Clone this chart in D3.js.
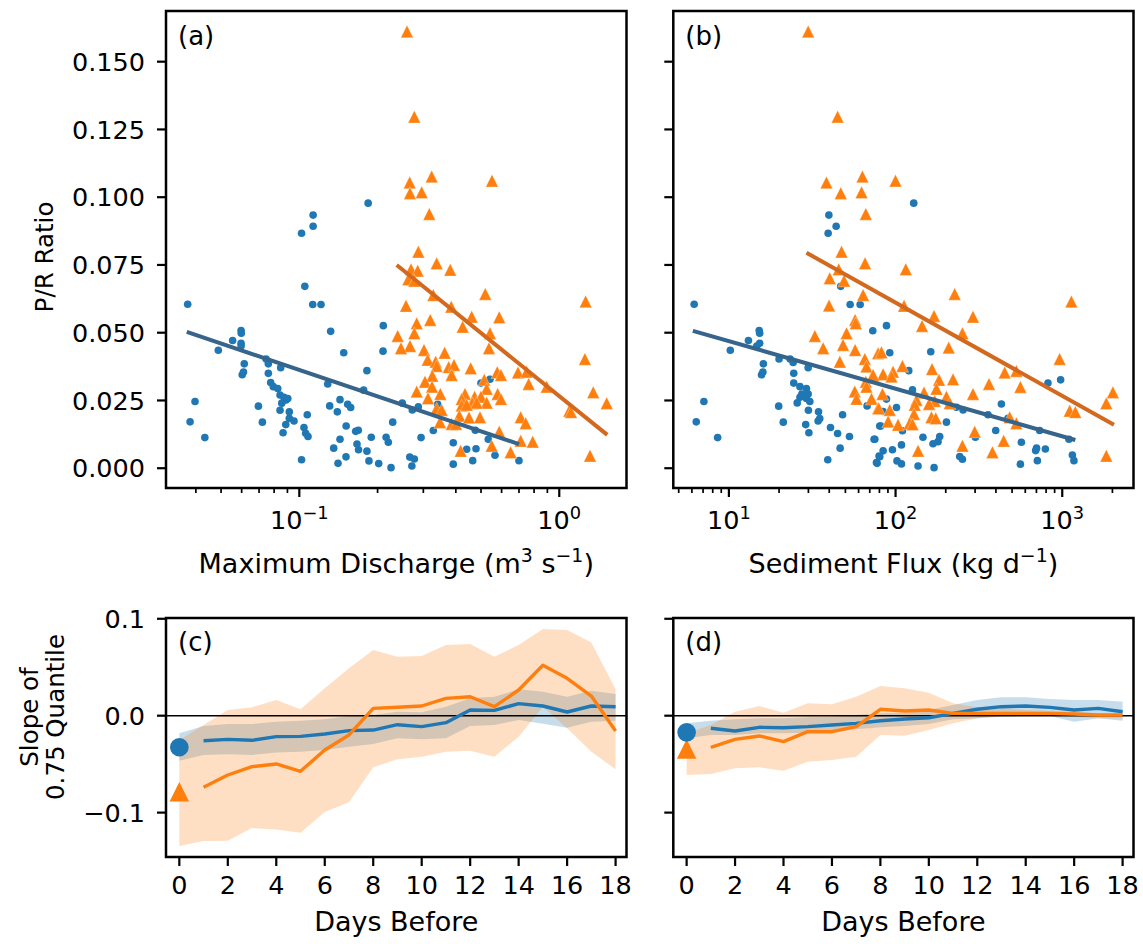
<!DOCTYPE html>
<html>
<head>
<meta charset="utf-8">
<script src="https://cdn.jsdelivr.net/npm/d3@7"></script>
<style>
  body { margin: 0; background: #fff; }
  text { font-family: "DejaVu Sans", sans-serif; fill: #000; }
</style>
</head>
<body>
<svg id="fig" width="1143" height="944"></svg>
<script>
///////// data //////////

// P/R ratio vs maximum discharge (m3/s), [discharge, ratio]
const blueDischarge = [
  [0.102,0.0867],[0.113,0.0934],[0.113,0.0893],[0.184,0.0978],[0.0372,0.0605],[0.0380,0.0171],
  [0.0397,0.0246],[0.0433,0.0113],[0.0488,0.0435],[0.0554,0.0471],[0.0597,0.0508],[0.0598,0.0498],
  [0.0597,0.0461],[0.0597,0.0451],[0.0614,0.0385],[0.0603,0.0345],[0.0610,0.0355],[0.0696,0.0229],
  [0.0721,0.0170],[0.0745,0.0403],[0.0760,0.0385],[0.0760,0.0350],[0.0776,0.0316],[0.0794,0.0301],
  [0.0826,0.0294],[0.0848,0.0371],[0.0843,0.0270],[0.0856,0.0240],[0.0843,0.0214],[0.0873,0.0262],
  [0.0889,0.0252],[0.0903,0.0257],[0.0915,0.0208],[0.0887,0.0161],[0.0866,0.0131],[0.0915,0.0184],
  [0.0954,0.0174],[0.102,0.0031],[0.1073,0.0197],[0.1042,0.0150],[0.1058,0.0129],[0.108,0.0117],
  [0.105,0.0671],[0.1126,0.0604],[0.1212,0.0604],[0.132,0.0505],[0.1482,0.0426],[0.1286,0.0311],
  [0.1309,0.0230],[0.140,0.0208],[0.1434,0.0253],[0.1535,0.0236],[0.1576,0.0224],[0.1356,0.0074],
  [0.1434,0.0107],[0.1409,0.0018],[0.1512,0.0042],[0.1514,0.0156],[0.1648,0.0136],[0.1686,0.0140],
  [0.1667,0.0089],[0.169,0.0068],[0.182,0.0360],[0.1768,0.0288],[0.1891,0.0114],[0.182,0.0063],
  [0.1853,0.0027],[0.202,0.0017],[0.2104,0.0526],[0.2099,0.0432],[0.2287,0.0170],[0.2157,0.0114],
  [0.220,0.0096],[0.2253,0.0002],[0.249,0.0240],[0.272,0.0215],[0.287,0.0227],[0.294,0.0113],
  [0.266,0.0041],[0.277,0.0034],[0.271,0.0008],[0.3277,0.0139],[0.3407,0.0236],[0.3386,0.0203],
  [0.391,0.0094],[0.391,0.0015],[0.4403,0.0070],[0.4783,0.0072],[0.4645,0.0028],[0.4753,0.0140],
  [0.4997,0.0314],[0.5413,0.0328],[0.5332,0.0107],[0.5658,0.0048],[0.6998,0.0028]
];
const orangeDischarge = [
  [0.2596,0.1611],[0.277,0.1297],[0.2658,0.1054],[0.323,0.1076],[0.2665,0.1015],[0.2956,0.1018],
  [0.551,0.1061],[0.3162,0.0938],[0.287,0.0799],[0.3377,0.0756],[0.269,0.0734],[0.2854,0.0729],
  [0.3807,0.0732],[0.2626,0.0697],[0.277,0.0692],[0.3277,0.0639],[0.5192,0.0643],[0.2573,0.0599],
  [0.3841,0.0596],[0.2829,0.0535],[0.319,0.0547],[0.4604,0.0559],[0.5877,0.0557],[0.425,0.0522],
  [0.277,0.0498],[0.239,0.0488],[0.5413,0.0498],[0.2665,0.0451],[0.2461,0.0443],[0.3017,0.0436],
  [0.3623,0.0426],[0.5365,0.0443],[0.3118,0.0400],[0.3347,0.0393],[0.3377,0.0377],[0.3755,0.0373],
  [0.3936,0.0381],[0.4563,0.0369],[0.3855,0.0344],[0.3248,0.0341],[0.5773,0.0354],[0.5966,0.0344],
  [0.6937,0.0353],[0.7493,0.0356],[0.3044,0.0319],[0.3239,0.0301],[0.5146,0.0326],[0.5257,0.0293],
  [0.7627,0.0311],[0.8945,0.0301],[0.2829,0.0283],[0.3486,0.0274],[0.3126,0.0258],[0.4338,0.0274],
  [0.4726,0.0264],[0.4997,0.0264],[0.4213,0.0255],[0.5794,0.0274],[0.5966,0.0255],[0.5257,0.0242],
  [0.4628,0.0240],[0.4813,0.0242],[0.3377,0.0221],[0.3529,0.0215],[0.4213,0.0231],[0.4403,0.0234],
  [0.4125,0.0194],[0.4495,0.0187],[0.4955,0.0188],[0.3855,0.0163],[0.3477,0.0170],[0.4006,0.0163],
  [0.7104,0.0188],[0.7426,0.0166],[1.093,0.0212],[1.109,0.0207],[1.263,0.0615],[1.255,0.0403],
  [1.351,0.0280],[1.522,0.0240],[1.313,0.0046],[0.5877,0.0135],[0.5495,0.0083],[0.4175,0.0064],
  [0.650,0.0059],[0.7104,0.0101],[0.7902,0.0098]
];
// fitted quantile lines, two end points each
const blueDischargeFit = [[0.0369,0.0503],[0.70,0.0089]];
const orangeDischargeFit = [[0.2369,0.0750],[1.530,0.0123]];

// P/R ratio vs sediment flux (kg/d), [flux, ratio]
const blueFlux = [
  [39.8,0.0934],[44.0,0.0893],[39.4,0.0867],[128.5,0.0978],[6.19,0.0605],[6.37,0.0171],[7.08,0.0246],
  [8.56,0.0113],[10.2,0.0435],[13.1,0.0471],[15.2,0.0508],[15.3,0.0498],[15.3,0.0461],[14.7,0.0451],
  [16.1,0.0385],[15.7,0.0345],[16.0,0.0355],[19.9,0.0229],[21.2,0.0170],[20.0,0.0403],[23.3,0.0403],
  [24.3,0.0390],[29.9,0.0371],[24.5,0.0350],[24.5,0.0314],[26.7,0.0301],[29.2,0.0294],[27.4,0.0274],
  [29.9,0.0274],[26.7,0.0262],[29.2,0.0257],[30.6,0.0246],[25.7,0.0241],[30.0,0.0214],[34.5,0.0208],
  [35.1,0.0183],[34.3,0.0174],[28.9,0.0161],[30.2,0.0131],[40.7,0.0150],[44.9,0.0128],[52.9,0.0117],
  [46.5,0.0074],[39.2,0.0031],[48.1,0.0197],[46.9,0.0671],[53.4,0.0604],[61.3,0.0604],[73.0,0.0507],
  [67.5,0.0230],[80.4,0.0156],[74.3,0.0107],[76.8,0.0021],[79.6,0.0045],[88.2,0.0526],[92.3,0.0426],
  [162.6,0.0430],[120,0.0360],[126.3,0.0289],[88.2,0.0255],[101.3,0.0224],[84.2,0.0209],[202,0.0170],
  [81.5,0.0156],[110,0.0138],[146,0.0114],[75.1,0.0107],[184,0.0117],[179.8,0.0098],[167.8,0.0090],
  [108.5,0.0086],[95.8,0.0068],[84.2,0.0064],[80.4,0.0042],[77.5,0.0018],[102,0.0027],[108.5,0.0016],
  [136.4,0.0008],[170.2,0.0002],[242.6,0.0043],[251.8,0.0033],[231.8,0.0225],[254,0.0215],
  [358.6,0.0197],[398.8,0.0139],[431.4,0.0237],[472.5,0.0184],[301.3,0.0114],[568.6,0.0096],
  [732,0.0139],[821,0.0314],[978,0.0326],[692.6,0.0065],[701,0.0074],[791.9,0.0071],[560.8,0.0015],
  [709,0.0028],[1097,0.0107],[1150,0.0049],[1175,0.0028]
];
const orangeFlux = [
  [29.9,0.1611],[44.9,0.1297],[38.5,0.1054],[46.9,0.1015],[63.3,0.1076],[62.5,0.1018],[66.3,0.0938],
  [47.4,0.0799],[99.9,0.1061],[65.6,0.0756],[45.6,0.0734],[40.3,0.0701],[49.1,0.0692],[63.9,0.0639],
  [39.9,0.0600],[57.2,0.0547],[57.7,0.0535],[32.8,0.0488],[50.8,0.0498],[36.8,0.0443],[48.4,0.0455],
  [57.2,0.0436],[46.3,0.0393],[65.4,0.0403],[66.9,0.0375],[73.3,0.0341],[66.3,0.0319],[66.9,0.0301],
  [56.9,0.0283],[58.3,0.0256],[71.7,0.0256],[78.6,0.0221],[78.6,0.0424],[115.2,0.0734],[226.4,0.0643],
  [112.5,0.0599],[170.2,0.0562],[291.4,0.0559],[144.2,0.0525],[251.8,0.0498],[1134,0.0615],
  [82.3,0.0428],[208.4,0.0445],[964.7,0.0403],[110,0.0377],[165.5,0.0366],[84.2,0.0347],[96.6,0.0356],
  [94.5,0.0338],[73.3,0.0344],[182.3,0.0326],[221.2,0.0328],[451.5,0.0353],[530.7,0.0359],
  [363.6,0.0311],[560.8,0.0300],[175.9,0.0293],[83.5,0.0274],[148.2,0.0279],[133.5,0.0252],
  [202,0.0264],[171.8,0.0248],[158.8,0.0237],[130.4,0.0234],[211.4,0.0240],[291.4,0.0274],
  [79.3,0.0221],[92.3,0.0215],[129,0.0200],[164.1,0.0188],[174.2,0.0184],[90.2,0.0172],[103.5,0.0160],
  [121.6,0.0166],[126.5,0.0162],[483.8,0.0188],[530.7,0.0166],[298.4,0.0135],[445.3,0.0101],
  [251.8,0.0083],[136.4,0.0064],[381.1,0.0059],[1838,0.0046],[1108,0.0212],[1198,0.0207],
  [1838,0.0240],[2014,0.0280]
];
const blueFluxFit = [[6.08,0.0507],[1198,0.0104]];
const orangeFluxFit = [[29.2,0.0795],[2042,0.0160]];

const prTicks = [0, 0.025, 0.05, 0.075, 0.1, 0.125, 0.15];

// slope of 0.75 quantile vs days before
const days = [0,1,2,3,4,5,6,7,8,9,10,11,12,13,14,15,16,17,18];
const slopeTicksX = [0,2,4,6,8,10,12,14,16,18];
const slopeTicksY = [-0.1, 0, 0.1];

// panel (c): discharge
const cBlueDay0 = -0.0326, cOrangeDay0 = -0.0784;
const cBlueLine = [-0.0258,-0.0244,-0.0254,-0.0216,-0.0213,-0.0189,-0.0154,-0.0148,-0.0093,-0.0113,-0.0072,0.0059,0.0055,0.0124,0.0100,0.0038,0.0100,0.0093];
const cOrangeLine = [-0.0739,-0.0612,-0.0526,-0.0498,-0.0574,-0.0354,-0.0199,0.0076,0.0087,0.0100,0.0179,0.0196,0.0093,0.0265,0.0520,0.0386,0.0203,-0.0158];
const cBlueHi = [-0.0182,-0.0106,-0.0086,-0.0086,-0.0062,-0.0052,-0.0037,-0.0003,0.0007,0.0041,0.0035,0.0093,0.0179,0.0196,0.0272,0.0248,0.0196,0.0258,0.0224];
const cBlueLo = [-0.0464,-0.0406,-0.0399,-0.0406,-0.0381,-0.0371,-0.0354,-0.0320,-0.0292,-0.0234,-0.0244,-0.0234,-0.0106,-0.0096,-0.0044,-0.0083,-0.0124,-0.0062,-0.0052];
const cOrangeHi = [-0.0251,-0.0096,0.0059,0.0087,0.0162,0.0066,0.0283,0.0489,0.0678,0.0609,0.0616,0.0730,0.0740,0.0609,0.0730,0.0894,0.0884,0.0754,0.0272];
const cOrangeLo = [-0.1345,-0.1293,-0.1290,-0.1159,-0.1173,-0.1207,-0.0994,-0.0894,-0.0533,-0.0450,-0.0423,-0.0371,-0.0361,-0.0423,-0.0217,0.0093,-0.0130,-0.0371,-0.0553];

// panel (d): sediment flux
const dBlueDay0 = -0.0172, dOrangeDay0 = -0.0344;
const dBlueLine = [-0.0130,-0.0158,-0.0120,-0.0124,-0.0113,-0.0096,-0.0079,-0.0052,-0.0034,-0.0021,0.0024,0.0066,0.0093,0.0100,0.0086,0.0059,0.0076,0.0041];
const dOrangeLine = [-0.0326,-0.0244,-0.0209,-0.0268,-0.0165,-0.0165,-0.0113,0.0066,0.0049,0.0059,0.0024,0.0024,0.0024,0.0024,0.0024,0.0017,0.0007,0.0007];
const dBlueHi = [-0.0079,-0.0052,-0.0037,-0.0027,-0.0027,-0.0017,-0.0010,0.0007,0.0024,0.0031,0.0059,0.0110,0.0162,0.0190,0.0190,0.0172,0.0162,0.0162,0.0145];
const dBlueLo = [-0.0234,-0.0199,-0.0199,-0.0182,-0.0182,-0.0175,-0.0165,-0.0141,-0.0120,-0.0106,-0.0086,-0.0037,-0.0027,-0.0010,-0.0003,-0.0003,-0.0062,-0.0027,-0.0052];
const dOrangeHi = [-0.0182,-0.0096,0.0041,0.0100,0.0031,0.0128,0.0118,0.0196,0.0307,0.0283,0.0238,0.0128,0.0086,0.0076,0.0059,0.0052,0.0041,0.0024,0.0017];
const dOrangeLo = [-0.0612,-0.0602,-0.0543,-0.0533,-0.0567,-0.0475,-0.0457,-0.0423,-0.0199,-0.0206,-0.0148,-0.0079,-0.0027,-0.0003,-0.0003,0.0007,-0.0010,-0.0027,-0.0027];

////////////////////// style / layout //////////////////////
const BLUE = "#1f77b4", ORANGE = "#ff7f0e";
const BLUE_FIT = "#36648b", ORANGE_FIT = "#d2691e";
const FS_TICK = 25.5, FS_LABEL = 27, FS_YLABEL = 24.5, FS_PANEL = 26;
const svg = d3.select("#fig");

function triPath(s) {
  // matplotlib-style "^" marker, centred on its bounding box
  return "M0," + (-s / 2) + "L" + (s / 2) + "," + (s / 2) + "L" + (-s / 2) + "," + (s / 2) + "Z";
}

function richText(g, x, y, parts, fs) {
  // parts: [text, isSuperscript]
  let t = g.append("text").attr("x", x).attr("y", y)
    .attr("font-size", fs).attr("text-anchor", "middle");
  let shift = fs * 0.4, raised = false;
  for (let [str, sup] of parts) {
    let ts = t.append("tspan").text(str);
    if (sup) ts.attr("font-size", fs * 0.7);
    if (sup && !raised) { ts.attr("dy", -shift); raised = true; }
    else if (!sup && raised) { ts.attr("dy", shift); raised = false; }
  }
  return t;
}

function frame(g, L, R, T, B) {
  g.append("rect").attr("x", L).attr("y", T).attr("width", R - L).attr("height", B - T)
    .attr("fill", "none").attr("stroke", "#000").attr("stroke-width", 2.5);
}

function yTicks(g, y, L, ticks, fmt, withLabels) {
  for (let v of ticks) {
    g.append("line").attr("x1", L - 9).attr("x2", L).attr("y1", y(v)).attr("y2", y(v))
      .attr("stroke", "#000").attr("stroke-width", 2.2);
    if (withLabels) {
      g.append("text").attr("x", L - 21).attr("y", y(v)).attr("dy", "0.36em")
        .attr("text-anchor", "end").attr("font-size", FS_TICK).text(fmt(v));
    }
  }
}

////////////////////// scatter panels (a), (b) //////////////////////
const prDomain = [-0.0073, 0.1687];

function scatterPanel(cfg) {
  const g = svg.append("g");
  const x = d3.scaleLog().domain(cfg.xDomain).range([cfg.L, cfg.R]);
  const y = d3.scaleLinear().domain(prDomain).range([cfg.B, cfg.T]);
  const clipId = "clip-" + cfg.tag;
  g.append("clipPath").attr("id", clipId).append("rect")
    .attr("x", cfg.L).attr("y", cfg.T).attr("width", cfg.R - cfg.L).attr("height", cfg.B - cfg.T);
  const plot = g.append("g").attr("clip-path", "url(#" + clipId + ")");

  plot.selectAll("circle.b").data(cfg.blue).enter().append("circle")
    .attr("cx", d => x(d[0])).attr("cy", d => y(d[1])).attr("r", 3.8).attr("fill", BLUE);
  plot.selectAll("path.o").data(cfg.orange).enter().append("path")
    .attr("d", triPath(12.5)).attr("transform", d => "translate(" + x(d[0]) + "," + y(d[1]) + ")")
    .attr("fill", ORANGE).attr("stroke", "#fff").attr("stroke-opacity", 0.5).attr("stroke-width", 0.6);

  const line = d3.line().x(d => x(d[0])).y(d => y(d[1]));
  plot.append("path").attr("d", line(cfg.blueFit)).attr("stroke", BLUE_FIT)
    .attr("stroke-width", 4).attr("fill", "none");
  plot.append("path").attr("d", line(cfg.orangeFit)).attr("stroke", ORANGE_FIT)
    .attr("stroke-width", 4).attr("fill", "none");

  // log ticks
  for (let v of x.ticks()) {
    let e = Math.log10(v);
    let major = Math.abs(e - Math.round(e)) < 1e-9;
    g.append("line").attr("x1", x(v)).attr("x2", x(v)).attr("y1", cfg.B).attr("y2", cfg.B + (major ? 9 : 5))
      .attr("stroke", "#000").attr("stroke-width", major ? 2.2 : 1.7);
    if (major) {
      let ex = Math.round(e);
      richText(g, x(v), cfg.B + 41, [["10", false], [ex < 0 ? "\u2212" + (-ex) : String(ex), true]], FS_TICK);
    }
  }
  yTicks(g, y, cfg.L, prTicks, d3.format(".3f"), cfg.yLabels);
  frame(g, cfg.L, cfg.R, cfg.T, cfg.B);

  g.append("text").attr("x", cfg.L + 12).attr("y", cfg.T + 34).attr("font-size", FS_PANEL).text(cfg.label);
  richText(g, (cfg.L + cfg.R) / 2, cfg.B + 85, cfg.xTitle, FS_LABEL);
}

scatterPanel({
  tag: "a", L: 166, R: 626.5, T: 11, B: 488, xDomain: [0.0307, 1.814],
  blue: blueDischarge, orange: orangeDischarge, blueFit: blueDischargeFit, orangeFit: orangeDischargeFit,
  label: "(a)", yLabels: true,
  xTitle: [["Maximum Discharge (m", false], ["3", true], [" s", false], ["\u22121", true], [")", false]]
});
scatterPanel({
  tag: "b", L: 673.3, R: 1133.5, T: 11, B: 488, xDomain: [4.64, 2676],
  blue: blueFlux, orange: orangeFlux, blueFit: blueFluxFit, orangeFit: orangeFluxFit,
  label: "(b)", yLabels: false,
  xTitle: [["Sediment Flux (kg d", false], ["\u22121", true], [")", false]]
});

////////////////////// slope panels (c), (d) //////////////////////
const slopeDomain = [-0.1458, 0.1008];

function slopePanel(cfg) {
  const g = svg.append("g");
  const x = d3.scaleLinear().domain([-0.55, 18.45]).range([cfg.L, cfg.R]);
  const y = d3.scaleLinear().domain(slopeDomain).range([cfg.B, cfg.T]);
  const clipId = "clip-" + cfg.tag;
  g.append("clipPath").attr("id", clipId).append("rect")
    .attr("x", cfg.L).attr("y", cfg.T).attr("width", cfg.R - cfg.L).attr("height", cfg.B - cfg.T);
  const plot = g.append("g").attr("clip-path", "url(#" + clipId + ")");

  const band = d3.area().x(d => x(d[0])).y0(d => y(d[1])).y1(d => y(d[2]));
  plot.append("path").attr("d", band(days.map((d, i) => [d, cfg.blueLo[i], cfg.blueHi[i]])))
    .attr("fill", BLUE).attr("fill-opacity", 0.25);
  plot.append("path").attr("d", band(days.map((d, i) => [d, cfg.orangeLo[i], cfg.orangeHi[i]])))
    .attr("fill", ORANGE).attr("fill-opacity", 0.25);

  plot.append("line").attr("x1", cfg.L).attr("x2", cfg.R).attr("y1", y(0)).attr("y2", y(0))
    .attr("stroke", "#000").attr("stroke-width", 1.6);

  const line = d3.line().x(d => x(d[0])).y(d => y(d[1]));
  const later = days.slice(1);
  plot.append("path").attr("d", line(later.map((d, i) => [d, cfg.blueLine[i]])))
    .attr("stroke", BLUE).attr("stroke-width", 3.4).attr("fill", "none").attr("stroke-linejoin", "round");
  plot.append("path").attr("d", line(later.map((d, i) => [d, cfg.orangeLine[i]])))
    .attr("stroke", ORANGE).attr("stroke-width", 3.4).attr("fill", "none").attr("stroke-linejoin", "round");

  g.append("path").attr("d", triPath(19.5))
    .attr("transform", "translate(" + x(0) + "," + y(cfg.orange0) + ")").attr("fill", ORANGE);
  g.append("circle").attr("cx", x(0)).attr("cy", y(cfg.blue0)).attr("r", 9.3).attr("fill", BLUE);

  for (let v of slopeTicksX) {
    g.append("line").attr("x1", x(v)).attr("x2", x(v)).attr("y1", cfg.B).attr("y2", cfg.B + 9)
      .attr("stroke", "#000").attr("stroke-width", 2.2);
    g.append("text").attr("x", x(v)).attr("y", cfg.B + 37).attr("text-anchor", "middle")
      .attr("font-size", FS_TICK).text(v);
  }
  yTicks(g, y, cfg.L, slopeTicksY, d3.format(".1f"), cfg.yLabels);
  frame(g, cfg.L, cfg.R, cfg.T, cfg.B);

  g.append("text").attr("x", cfg.L + 12).attr("y", cfg.T + 33).attr("font-size", FS_PANEL).text(cfg.label);
  g.append("text").attr("x", (cfg.L + cfg.R) / 2).attr("y", 931).attr("text-anchor", "middle")
    .attr("font-size", FS_LABEL).text("Days Before");
}

slopePanel({
  tag: "c", L: 166, R: 626.5, T: 618, B: 857, label: "(c)", yLabels: true,
  blue0: cBlueDay0, orange0: cOrangeDay0, blueLine: cBlueLine, orangeLine: cOrangeLine,
  blueHi: cBlueHi, blueLo: cBlueLo, orangeHi: cOrangeHi, orangeLo: cOrangeLo
});
slopePanel({
  tag: "d", L: 673.3, R: 1133.5, T: 618, B: 857, label: "(d)", yLabels: false,
  blue0: dBlueDay0, orange0: dOrangeDay0, blueLine: dBlueLine, orangeLine: dOrangeLine,
  blueHi: dBlueHi, blueLo: dBlueLo, orangeHi: dOrangeHi, orangeLo: dOrangeLo
});

// y titles
function yTitle(x, y, str) {
  svg.append("text").attr("x", x).attr("y", y).attr("text-anchor", "middle")
    .attr("font-size", FS_YLABEL).attr("transform", "rotate(-90," + x + "," + y + ")").text(str);
}
yTitle(53, 257, "P/R Ratio");
yTitle(38, 717, "Slope of");
yTitle(64, 717, "0.75 Quantile");
</script>
</body>
</html>
